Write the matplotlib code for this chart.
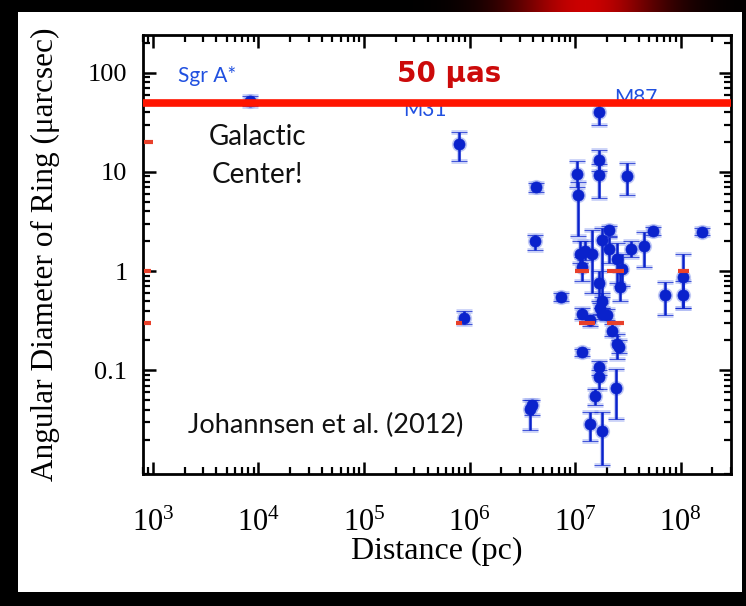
import numpy as np
import matplotlib
matplotlib.use('Agg')
import matplotlib.pyplot as plt
from matplotlib.ticker import FixedLocator, FixedFormatter, NullFormatter

plt.rcParams['mathtext.fontset'] = 'custom'
plt.rcParams['mathtext.rm'] = 'Liberation Serif'
plt.rcParams['mathtext.it'] = 'Liberation Serif:italic'

# Ring diameters of nearby black holes (Johannsen et al. 2012)
dist_pc = [8.3e3, 8.0e5, 1.7e7, 8.8e5, 3.75e6, 3.9e6, 4.15e6, 4.3e6,
           1.04e7, 1.06e7, 1.68e7, 1.70e7, 3.1e7, 4.5e7, 3.4e7, 5.5e7,
           1.58e8, 2.1e7, 1.11e7, 1.24e7, 1.45e7, 1.80e7, 2.09e7, 1.16e7,
           2.49e7, 2.78e7, 1.68e7, 2.66e7, 7.33e6, 7.13e7, 1.06e8, 1.06e8,
           1.80e7, 1.16e7, 1.38e7, 1.72e7, 1.80e7, 2.0e7, 2.24e7, 2.49e7,
           2.6e7, 1.16e7, 1.68e7, 1.68e7, 1.54e7, 2.44e7, 1.38e7, 1.80e7]
diam_uas = [52, 19, 40, 0.34, 0.041, 0.045, 2.0, 7.0,
            9.5, 5.8, 13.1, 9.3, 9.1, 1.8, 1.68, 2.55,
            2.5, 2.58, 1.5, 1.6, 1.5, 2.05, 1.68, 1.1,
            1.33, 1.05, 0.75, 0.69, 0.55, 0.57, 0.87, 0.58,
            0.5, 0.37, 0.32, 0.42, 0.37, 0.36, 0.25, 0.185,
            0.17, 0.152, 0.107, 0.085, 0.055, 0.066, 0.029, 0.0245]
diam_lo = [46, 13, 30, 0.29, 0.025, 0.035, 1.65, 6.3,
           7.0, 2.24, 10.3, 5.4, 5.8, 1.1, 1.4, 2.3,
           2.3, 2.26, 1.2, 1.3, 0.6, 0.55, 1.2, 0.8,
           0.75, 0.7, 0.5, 0.5, 0.5, 0.36, 0.42, 0.42,
           0.42, 0.33, 0.28, 0.37, 0.33, 0.32, 0.22, 0.13,
           0.15, 0.14, 0.09, 0.065, 0.045, 0.032, 0.0195, 0.011]
diam_hi = [58, 25, 50, 0.40, 0.05, 0.05, 2.3, 7.7,
           12.8, 8.0, 16.6, 12.0, 12.2, 2.5, 2.0, 2.8,
           2.7, 2.85, 2.0, 2.0, 2.6, 2.7, 2.2, 1.4,
           1.9, 1.5, 1.0, 1.0, 0.6, 0.78, 1.5, 0.8,
           0.6, 0.42, 0.36, 0.48, 0.42, 0.41, 0.29, 0.23,
           0.2, 0.165, 0.125, 0.1, 0.065, 0.103, 0.038, 0.038]

# short red dashes at 20, 1 and 0.3 uas
dash_y = [20, 1, 0.3, 0.3, 1, 1, 1, 0.3, 0.3]
dash_x0 = [820, 820, 820, 7.4e5, 1.0e7, 2.0e7, 9.5e7, 1.1e7, 2.0e7]
dash_x1 = [1000, 960, 960, 8.4e5, 1.35e7, 2.9e7, 1.2e8, 1.54e7, 2.9e7]

limit_uas = 50
xtick_vals = [1e3, 1e4, 1e5, 1e6, 1e7, 1e8]
xtick_labels = [r'$10^{%d}$' % p for p in range(3, 9)]
ytick_vals = [0.1, 1, 10, 100]
ytick_labels = ['0.1', '1', '10', '100']
minor_vals = [m * 10.0 ** p for p in range(-3, 9) for m in range(2, 10)]

W, H = 746, 606
fig = plt.figure(figsize=(W / 100, H / 100), dpi=100, facecolor='black')

# slide background: black border, white panel, red glow at the top
bg = np.zeros((H, W, 3))
bg[12:592, 18:742] = 1.0
cols = np.arange(W)
glow = np.exp(-((cols - 585) / 75.0) ** 2) * 0.8
bg[:12, :, 0] = glow[None, :]
bg_ax = fig.add_axes([0, 0, 1, 1], zorder=-10)
bg_ax.imshow(bg, extent=[0, W, H, 0], aspect='auto', interpolation='bilinear')
bg_ax.axis('off')

ax = fig.add_axes([142.7 / W, 1 - 474 / H, (731 - 142.7) / W, (474 - 35) / H])
ax.set_xscale('log')
ax.set_yscale('log')
ax.set_xlim(800, 3e8)
ax.set_ylim(0.009, 240)
ax.set_facecolor('white')

blue = '#0a22cc'
y = np.array(diam_uas)
yerr = [y - np.array(diam_lo), np.array(diam_hi) - y]
# soft halo then the points themselves
ax.errorbar(dist_pc, diam_uas, yerr=yerr, fmt='o', color='#9aa8f0', ms=10,
            mec='#9aa8f0', elinewidth=3, capsize=6, capthick=3.5, alpha=0.5, zorder=3)
ax.errorbar(dist_pc, diam_uas, yerr=yerr, fmt='o', color=blue, mec=blue, ms=8,
            mew=0.5, elinewidth=1.8, capsize=5.5, capthick=2, zorder=4)

ax.hlines(dash_y, dash_x0, dash_x1, colors='#e8402a', linewidth=3, zorder=5)
ax.axhline(limit_uas, color='#ff1500', linewidth=5.5, zorder=6)

lbl_font = 'Lato'
ax.text(3.26e3, 92, 'Sgr A*', color='#2050e0', fontsize=15, family=lbl_font,
        ha='center', va='center', zorder=2)
ax.text(3.75e5, 42, 'M31', color='#2050e0', fontsize=15, family=lbl_font,
        ha='center', va='center', zorder=2)
ax.text(3.76e7, 56, 'M87', color='#2050e0', fontsize=15, family=lbl_font,
        ha='center', va='center', zorder=2)
ax.text(6.47e5, 96, '50 μas', color='#cc0a0a', fontsize=20, weight='bold',
        family='DejaVu Sans', ha='center', va='center', zorder=7)
ax.text(9.7e3, 22.4, 'Galactic', color='#111111', fontsize=20, family=lbl_font,
        ha='center', va='center')
ax.text(9.7e3, 9.27, 'Center!', color='#111111', fontsize=20, family=lbl_font,
        ha='center', va='center')
ax.text(4.35e4, 0.0276, 'Johannsen et al. (2012)', color='#111111', fontsize=19.5,
        family=lbl_font, ha='center', va='center')

ax.xaxis.set_major_locator(FixedLocator(xtick_vals))
ax.xaxis.set_major_formatter(FixedFormatter(xtick_labels))
ax.yaxis.set_major_locator(FixedLocator(ytick_vals))
ax.yaxis.set_major_formatter(FixedFormatter(ytick_labels))
for axis in (ax.xaxis, ax.yaxis):
    axis.set_minor_locator(FixedLocator(minor_vals))
    axis.set_minor_formatter(NullFormatter())

ax.tick_params(which='both', direction='in', top=True, right=True, color='black')
ax.tick_params(which='major', length=9, width=1.8)
ax.tick_params(which='minor', length=5, width=1.6)
ax.tick_params(axis='x', which='major', pad=24, labelsize=22)
ax.tick_params(axis='y', which='major', pad=11, labelsize=19)
for lab in ax.get_yticklabels():
    lab.set_family('Liberation Serif')
for sp in ax.spines.values():
    sp.set_linewidth(2)

ax.set_xlabel('Distance (pc)', family='Liberation Serif', fontsize=23, labelpad=0)
ax.set_ylabel('Angular Diameter of Ring (μarcsec)', family='Liberation Serif',
              fontsize=22.5, labelpad=20)

fig.savefig('out.png', dpi=100, facecolor='black')
